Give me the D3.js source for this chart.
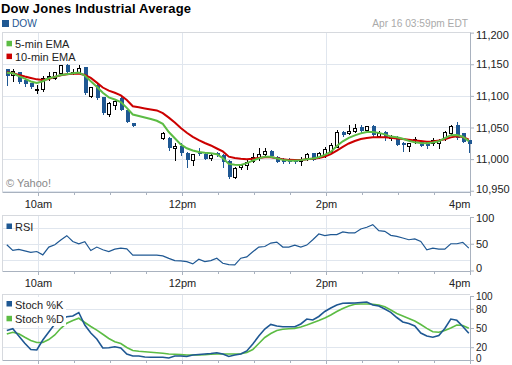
<!DOCTYPE html>
<html><head><meta charset="utf-8">
<script src="https://cdn.jsdelivr.net/npm/d3@7"></script>
<style>
body{margin:0;background:#fff}
svg{display:block;font-family:Arial,"Liberation Sans",Helvetica,sans-serif}
</style>
</head><body>
<svg id="chart" width="512" height="365"></svg>
<script>
// ---------------- DATA ----------------
const titleText = "Dow Jones Industrial Average";
const symbolText = "DOW";
const stampText = "Apr 16 03:59pm EDT";
const creditText = "\u00a9 Yahoo!";

const openP = [11142,11133,11137,11125,11120,11110,11111,11131,11129,11136,11149,11138,11138,11145,11100,11117,11098,11071,11085.5,11096,11077,11056.6,null,null,null,null,11033,11034,11017,11021,11010,10999,11011,11008,11001,11009,11006.6,10997,10972,10988,10991,10997.6,11003,11008,11013.4,11004,11000,10999.8,10998.7,10996.5,11001,11009,11004,11006.6,11012,11019.7,11043.4,11041,11045,11050.3,11046,11052.4,11037,11042.4,11034,11035.5,11025,11020,11031,11027.6,11027,11025,11025,11033,11041,11054,11040.8,11030.3];
const highP = [11143,11142,11138,11126,11121,11117,11131,11138,11138,11149,11150,11143,11149,11146,11114,11118,11099,11090,11093,11099,11078,11057,null,null,null,null,11043,11035,11025,11025,11011,11008.5,11017,11009,11010,11012,11008,10998,10987,10993,10999,11009,11017,11017,11015,11005,11001,11001,11000,11003,11010,11010,11012,11019,11025,11046,11045,11054,11055,11054,11053,11054,11045,11044,11038,11037,11027.6,11026,11035,11029,11028,11033,11032,11045,11054,11059,11042,11031];
const lowP = [11117,11124,11121,11115,11113,11105,11108,11125,11127,11134,11136,11135,11137,11103,11098,11095,11072,11068,11080,11077,11059,11052,null,null,null,null,11032,11014,10998,11006,10988,10991,11006,11000,10999,11005,10988,10970,10970,10985,10985,10996,10998.7,11007,11004,10995,10994,10994,10994,10991,10999,10998,11001,11003,11010,11019,11037,11039,11043,11042,11045,11037,11035,11030,11031,11022,11013,11013,11025,11020,11017,11022,11017,11031,11039,11032,11027,11012];
const closeP = [11132,11140,11122,11119,11114,11111,11129,11131.5,11137,11148.7,11137,11138.5,11143.5,11104,11113.5,11096,11073.4,11089,11092,11077.6,11059.2,11052.8,null,null,null,null,11040.8,11017,11021,11009,10999,11008,11008,11000.3,11006.6,11006,10996,10971.4,10986.5,10991,10996,11004,11008,11013.4,11005,10996,10995,10995,10995,10999.8,11008,10999,11009,11015.6,11022.4,11043.4,11038.2,11045,11048.7,11045,11052.4,11038,11042,11033,11036.6,11022.4,11022.4,11025,11031.5,11021,11020,11030,11030,11043.4,11051.6,11033,11027.6,11024];

const ema5 = [11136.5,11135.7,11131.3,11127.4,11122.8,11120.4,11123.1,11127.8,11130,11132.9,11134.2,11135.6,11137,11132.1,11123,11114.4,11104.9,11097.7,11094.2,11090.3,11081.1,11070.5,11068.2,11065.8,11063.4,11060.6,11055.8,11042.9,11032.9,11023.3,11017.2,11013.7,11011.3,11009.9,11009.1,11007.8,11001.7,10992.4,10991.1,10990.8,10993.6,10997.7,11001.2,11003.9,11003.6,11001.2,10998.8,10997.7,10997.6,10998.4,10999.8,11001,11002.9,11006.7,11011.5,11020.8,11028.2,11033.7,11037.5,11040.7,11042.7,11043,11041.5,11039.1,11035.6,11034.7,11032.3,11028.8,11026.6,11025.5,11025.2,11026.3,11028.2,11033.1,11037.9,11038.2,11035.4,11028.4];
const ema10 = [11137.2,11135.7,11133.2,11130.5,11128.2,11126.1,11125.3,11126.7,11130,11132.6,11134.2,11134.9,11135.4,11133,11128.5,11121,11113.2,11108.3,11104.9,11100.8,11093.4,11083.5,11081.9,11080.2,11078.6,11077,11072.6,11065.6,11057.9,11049.2,11041.6,11035.3,11030,11025.5,11021.6,11016.8,11012.1,11003.9,11001.8,11000.6,10999.9,11000.7,11001.8,11002.9,11002.8,11001.2,10999.8,10998.8,10998.7,10998.7,10999.6,11000.7,11001.7,11004,11007.8,11013.5,11019.5,11024.7,11028.7,11031.7,11033.4,11034.5,11034.5,11034.5,11033.9,11032.6,11031.7,11030.6,11029.6,11028.5,11027.6,11027.9,11029.5,11031.5,11034.4,11036.3,11035,11030.9];

const rsi = [48.1,37.7,39.6,36.8,34,35.5,29.2,43.8,48.1,57,65.1,54.3,50,53.8,37.4,43.8,38.7,35.5,40,41.9,40.6,28.7,28.7,28.7,28.7,28.7,27.4,22.6,18.5,17.9,16.6,12.3,21.1,16.6,18.5,23,13.6,10.9,10.4,23,25.5,34.9,43.8,44.9,51.3,53.2,43.8,43.8,47.5,43.8,47.5,57.5,68.3,65.1,67,67,72.1,70.2,70.2,77.7,80.8,85.8,74.5,73.2,65.7,63.8,60.8,57.5,58.9,54.3,38.7,41.9,40,40,50,50,52.5,41.9];

const stochK = [46.1,48.8,37.5,26.1,16.4,15.6,31.3,43.8,56.3,64,67.7,68.8,74.2,54.7,42.2,32.8,18.8,19.1,20.6,18.8,9.4,6.3,6.3,4.7,4.2,4.2,4.2,3.1,6.3,6.3,5.5,7.8,8.6,9.4,10.2,11.4,9.4,5.5,7.8,9.4,14.1,25,37.5,48.4,55.5,53.1,52,52,52,56.3,64,62.5,68,75.8,81.3,85.9,88.6,88.8,89.1,89.8,90.6,85.9,84.4,79.7,74.5,66.4,59.4,57,53.1,42.2,37.5,35.5,38.3,49.2,64,62,52.3,41.7];
const stochD = [40.6,43.3,41.1,35.5,30.5,27.3,27.3,32,39.1,49.5,57.5,61.7,65.2,58.6,52.3,46.6,40.2,33.6,28.6,25.8,19.5,14.8,13.6,12.8,12,11.3,10.5,9.4,8.9,8.4,7.8,7.8,7.8,8.1,9.1,9.4,9.4,9.4,9.4,9.7,11.7,16.4,25.8,35.2,41.4,46.1,48,48.8,49.4,51.6,54.7,58.1,61.7,65.6,70.3,75.8,80.5,84.4,87,87.5,87.5,87.2,85.9,83.3,78.1,72.7,68.8,64.8,60.9,55.5,49.5,44.1,43.3,46.1,50,54.7,54,49.5];

const mainTicks = [11200,11150,11100,11050,11000,10950];
const mainGrid = [11150,11100,11050,11000,10950];
const rsiTicks = [100,50,0];
const rsiGrid = [80,50,20];
const stochTicks = [100,80,50,20,0];
const stochGrid = [80,50,20];
const hourLabels = ["10am","12pm","2pm","4pm"];
const hourLabelHours = [10,12,14,16];
const gridHours = [10,12,14];

// ---------------- SETUP ----------------
const BLUE = "#1f5893", GREEN = "#5cbc44", RED = "#cc0000";
const GRID = "#e0e6ee", BORDER = "#d6d9de", AXIS = "#a9b2bf", TEXT = "#222";

function tm(h, m) { return new Date(2010, 3, 16, h, m); }
const sessionStart = tm(9,30), sessionEnd = tm(16,0);
const firstBar = tm(9,34), barMinutes = 5;
const times = closeP.map((_, i) => d3.timeMinute.offset(firstBar, barMinutes * i));

const svg = d3.select("#chart");
const L = 2, R = 470;
const P = {
  main: {top: 32, bottom: 192, fs: 11, padTop: 3, padBottom: 3.5},
  rsi: {top: 215, bottom: 271, fs: 11, padTop: 3, padBottom: 3},
  sto: {top: 294, bottom: 360, fs: 10, padTop: 2.5, padBottom: 1.8}
};
const x = d3.scaleTime().domain([sessionStart, sessionEnd]).range([L, R]);
const yMain = d3.scaleLinear().domain([10948, 11201]).range([P.main.bottom, P.main.top]);
const yRsi = d3.scaleLinear().domain([0, 100]).range([270.5, 217]);
const ySto = d3.scaleLinear().domain([0, 100]).range([360, 296]);

const halfHours = d3.timeMinute.every(30).range(tm(10,0), d3.timeMinute.offset(sessionEnd, 1));
const labelMap = new Map(hourLabelHours.map((h, i) => [+tm(h,0), hourLabels[i]]));

function frame(p, y, gridVals, tickVals, fmt, showX) {
  const g = svg.append("g");
  g.selectAll("line.hg").data(gridVals).join("line").attr("class","hg")
    .attr("x1", L).attr("x2", R)
    .attr("y1", d => Math.round(y(d)) + 0.5).attr("y2", d => Math.round(y(d)) + 0.5)
    .attr("stroke", GRID);
  g.selectAll("line.vg").data(gridHours.map(h => tm(h,0))).join("line").attr("class","vg")
    .attr("x1", d => Math.round(x(d)) + 0.5).attr("x2", d => Math.round(x(d)) + 0.5)
    .attr("y1", p.top).attr("y2", p.bottom)
    .attr("stroke", GRID);
  g.append("line").attr("x1", L).attr("x2", R).attr("y1", p.top + 0.5).attr("y2", p.top + 0.5).attr("stroke", BORDER);
  g.append("line").attr("x1", L + 0.5).attr("x2", L + 0.5).attr("y1", p.top).attr("y2", p.bottom).attr("stroke", BORDER);

  const xa = d3.axisBottom(x).tickValues(halfHours).tickSize(3).tickSizeOuter(0).tickPadding(5)
    .tickFormat(d => showX ? (labelMap.get(+d) || "") : "");
  const gx = g.append("g").attr("transform", `translate(0,${p.bottom})`).call(xa);
  gx.select(".domain").attr("stroke", AXIS);
  gx.selectAll(".tick line").attr("stroke", AXIS).attr("y2", d => labelMap.has(+d) ? 4 : 3);
  gx.selectAll(".tick text").attr("fill", TEXT).attr("font-size", 11).attr("font-family", null)
    .filter(d => x(d) + 10 > R).attr("text-anchor", "end").attr("x", 0);

  const ya = d3.axisRight(y).tickValues(tickVals).tickSize(4).tickSizeOuter(0).tickPadding(2).tickFormat(fmt);
  const gy = g.append("g").attr("transform", `translate(${R},0)`).call(ya);
  gy.select(".domain").attr("stroke", AXIS);
  gy.selectAll(".tick line").attr("stroke", AXIS);
  gy.selectAll(".tick text").attr("fill", TEXT).attr("font-size", p.fs).attr("font-family", null);
  gy.selectAll(".tick").each(function(d) {
    const ty = y(d);
    const c = Math.max(p.top + p.padTop, Math.min(p.bottom - p.padBottom, ty));
    d3.select(this).select("text").attr("y", c - ty);
  });
  g.selectAll(".domain").attr("fill", "none");
}

// ---------------- TITLES ----------------
svg.append("text").attr("x", 1).attr("y", 12.5).attr("font-size", 13).attr("font-weight", "bold")
  .attr("letter-spacing", 0.2).attr("fill", "#000").text(titleText);
svg.append("rect").attr("x", 2).attr("y", 20).attr("width", 7).attr("height", 7).attr("fill", BLUE);
svg.append("text").attr("x", 12).attr("y", 27.3).attr("font-size", 10.2).attr("fill", BLUE).text(symbolText);
svg.append("text").attr("x", 468).attr("y", 27.3).attr("text-anchor", "end").attr("font-size", 10.2)
  .attr("fill", "#aaa").text(stampText);

// ---------------- MAIN PANEL ----------------
frame(P.main, yMain, mainGrid, mainTicks, d3.format(","), true);

const bars = times.map((t, i) => ({t, o: openP[i], h: highP[i], l: lowP[i], c: closeP[i]}))
  .filter(d => d.o != null);
const gC = svg.append("g").attr("shape-rendering", "crispEdges");
const cx = d => Math.round(x(d.t));
const up = d => d.c >= d.o;
gC.selectAll("line.wick").data(bars).join("line").attr("class","wick")
  .attr("x1", d => cx(d) + 0.5).attr("x2", d => cx(d) + 0.5)
  .attr("y1", d => Math.round(yMain(d.h))).attr("y2", d => Math.round(yMain(d.l)) + 1)
  .attr("stroke", d => up(d) ? "#000" : BLUE);
gC.selectAll("rect.body").data(bars).join("rect").attr("class","body")
  .attr("x", d => up(d) ? cx(d) - 1.5 : cx(d) - 1)
  .attr("width", d => up(d) ? 3 : 4)
  .attr("y", d => Math.round(yMain(Math.max(d.o, d.c))) + (up(d) ? 0.5 : 0))
  .attr("height", d => Math.max(1, Math.round(yMain(Math.min(d.o, d.c))) - Math.round(yMain(Math.max(d.o, d.c)))))
  .attr("fill", d => up(d) ? "#fff" : BLUE)
  .attr("stroke", d => up(d) ? "#000" : "none");

const lineMain = d3.line().x(d => x(d.t)).y(d => yMain(d.v));
svg.append("path").datum(times.map((t, i) => ({t, v: ema10[i]})))
  .attr("d", lineMain).attr("fill", "none").attr("stroke", RED).attr("stroke-width", 2);
svg.append("path").datum(times.map((t, i) => ({t, v: ema5[i]})))
  .attr("d", lineMain).attr("fill", "none").attr("stroke", GREEN).attr("stroke-width", 2);

function legend(items, x0, y0, step, bg) {
  const g = svg.append("g");
  if (bg) g.append("rect").attr("x", bg[0]).attr("y", bg[1]).attr("width", bg[2]).attr("height", bg[3]).attr("fill", "#fff");
  items.forEach((it, i) => {
    g.append("rect").attr("x", x0).attr("y", y0 + i * step - 7.5).attr("width", 5.5).attr("height", 5.5).attr("fill", it.color);
    g.append("text").attr("x", x0 + 8.5).attr("y", y0 + i * step).attr("font-size", 11).attr("fill", TEXT).text(it.label);
  });
}
legend([{label: "5-min EMA", color: GREEN}, {label: "10-min EMA", color: RED}], 6.5, 48.3, 12.8);
svg.append("text").attr("x", 6).attr("y", 187).attr("font-size", 11).attr("fill", "#888").text(creditText);

// ---------------- RSI PANEL ----------------
frame(P.rsi, yRsi, rsiGrid, rsiTicks, d3.format("d"), true);
svg.append("path").datum(times.map((t, i) => ({t, v: rsi[i]})))
  .attr("d", d3.line().x(d => x(d.t)).y(d => yRsi(d.v)))
  .attr("fill", "none").attr("stroke", BLUE).attr("stroke-width", 1.2);
legend([{label: "RSI", color: BLUE}], 6.5, 231, 0);

// ---------------- STOCHASTIC PANEL ----------------
frame(P.sto, ySto, stochGrid, stochTicks, d3.format("d"), false);
const lineSto = d3.line().x(d => x(d.t)).y(d => ySto(d.v));
svg.append("path").datum(times.map((t, i) => ({t, v: stochD[i]})))
  .attr("d", lineSto).attr("fill", "none").attr("stroke", GREEN).attr("stroke-width", 1.6);
svg.append("path").datum(times.map((t, i) => ({t, v: stochK[i]})))
  .attr("d", lineSto).attr("fill", "none").attr("stroke", BLUE).attr("stroke-width", 1.6);
legend([{label: "Stoch %K", color: BLUE}, {label: "Stoch %D", color: GREEN}], 6.5, 308.5, 14.8, [3, 297, 63, 29]);
</script>
</body></html>
